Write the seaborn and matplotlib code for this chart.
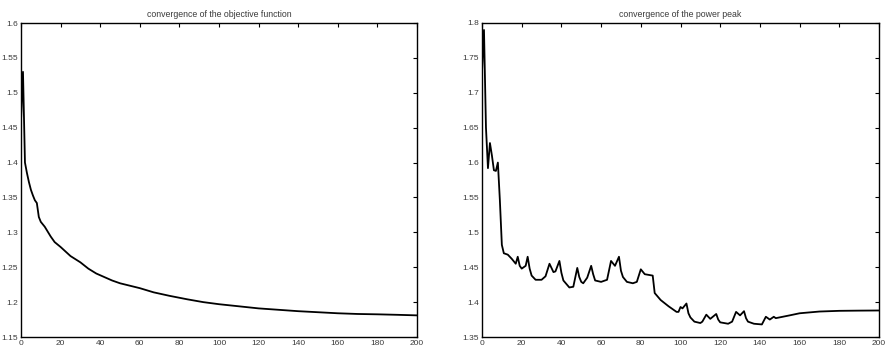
import matplotlib
matplotlib.use("Agg")
import matplotlib.pyplot as plt
import seaborn as sns
import pandas as pd

# objective function convergence
obj_iter = [0, 1, 2, 3, 4, 5, 6, 7, 8, 9, 10, 12, 15, 17, 20, 25, 30, 34, 38, 42,
            46, 50, 55, 60, 67, 75, 84, 92, 100, 110, 120, 130, 140, 150, 160, 170,
            180, 190, 200]
obj_val = [1.46, 1.53, 1.40, 1.385, 1.372, 1.361, 1.353, 1.346, 1.342, 1.322, 1.315,
           1.308, 1.294, 1.286, 1.279, 1.266, 1.257, 1.248, 1.241, 1.236, 1.231,
           1.227, 1.2235, 1.220, 1.214, 1.209, 1.204, 1.200, 1.197, 1.194, 1.191,
           1.189, 1.187, 1.1855, 1.184, 1.183, 1.1825, 1.1818, 1.181]

# power peak convergence
peak_iter = [0, 1, 2, 3, 4, 5, 6, 7, 8, 9, 10, 11, 13, 15, 17, 18, 19, 20, 22, 23,
             24, 25, 27, 30, 32, 34, 36, 37, 39, 40, 41, 44, 46, 48, 49, 50, 51, 53,
             55, 56, 57, 60, 63, 65, 67, 69, 70, 71, 73, 76, 78, 80, 82, 86, 87, 90,
             94, 98, 99, 100, 101, 103, 104, 105, 107, 110, 111, 113, 115, 118, 119,
             120, 124, 126, 128, 130, 132, 133, 134, 137, 141, 143, 145, 147, 148,
             155, 160, 170, 180, 190, 200]
peak_val = [1.73, 1.79, 1.65, 1.592, 1.628, 1.61, 1.589, 1.588, 1.600, 1.546, 1.482,
            1.470, 1.468, 1.462, 1.455, 1.465, 1.452, 1.448, 1.452, 1.465,
            1.448, 1.438, 1.432, 1.432, 1.437, 1.455, 1.443, 1.444, 1.459, 1.442,
            1.431, 1.421, 1.422, 1.449, 1.436, 1.429, 1.427, 1.435, 1.452, 1.440,
            1.431, 1.429, 1.432, 1.459, 1.452, 1.465, 1.445, 1.436, 1.429, 1.427,
            1.429, 1.447, 1.440, 1.438, 1.413, 1.403, 1.394, 1.386, 1.386, 1.393,
            1.391, 1.398, 1.384, 1.378, 1.372, 1.370, 1.372, 1.382, 1.376, 1.383,
            1.375, 1.371, 1.369, 1.372, 1.386, 1.381, 1.387, 1.377, 1.372, 1.369,
            1.368, 1.379, 1.375, 1.379, 1.377, 1.381, 1.384, 1.3865, 1.3875,
            1.3878, 1.388]

titles = ["convergence of the objective function", "convergence of the power peak"]
left_yticks = [1.15, 1.2, 1.25, 1.3, 1.35, 1.4, 1.45, 1.5, 1.55, 1.6]
right_yticks = [1.35, 1.4, 1.45, 1.5, 1.55, 1.6, 1.65, 1.7, 1.75, 1.8]
xticks = [0, 20, 40, 60, 80, 100, 120, 140, 160, 180, 200]

sns.set_style("white")
plt.rcParams['font.family'] = ['Liberation Sans', 'DejaVu Sans']

fig = plt.figure(figsize=(8.86, 3.48), dpi=100)
ax1 = fig.add_axes([21 / 886, 11 / 348, 396 / 886, 314 / 348])
ax2 = fig.add_axes([482 / 886, 11 / 348, 397 / 886, 314 / 348])

df1 = pd.DataFrame({"iter": obj_iter, "val": obj_val})
df2 = pd.DataFrame({"iter": peak_iter, "val": peak_val})

sns.lineplot(data=df1, x="iter", y="val", ax=ax1, color="black", linewidth=1.3)
sns.lineplot(data=df2, x="iter", y="val", ax=ax2, color="black", linewidth=1.3)

def fmt(v):
    return f"{v:.2f}".rstrip("0").rstrip(".")

txt_color = "#3a3a3a"
for ax, title, yt in [(ax1, titles[0], left_yticks), (ax2, titles[1], right_yticks)]:
    ax.set_xlim(0, 200)
    ax.set_ylim(yt[0], yt[-1])
    ax.set_xticks(xticks)
    ax.set_xticklabels([str(x) for x in xticks])
    ax.set_yticks(yt)
    ax.set_yticklabels([fmt(v) for v in yt])
    ax.set_xlabel("")
    ax.set_ylabel("")
    ax.set_title(title, fontsize=6.3, pad=4, color=txt_color)
    ax.tick_params(direction="in", length=3, width=0.8, labelsize=6,
                   top=True, right=True, pad=2, color="black", labelcolor=txt_color)
    for sp in ax.spines.values():
        sp.set_visible(True)
        sp.set_linewidth(1.0)
        sp.set_color("black")

fig.savefig("out.png", dpi=100)
